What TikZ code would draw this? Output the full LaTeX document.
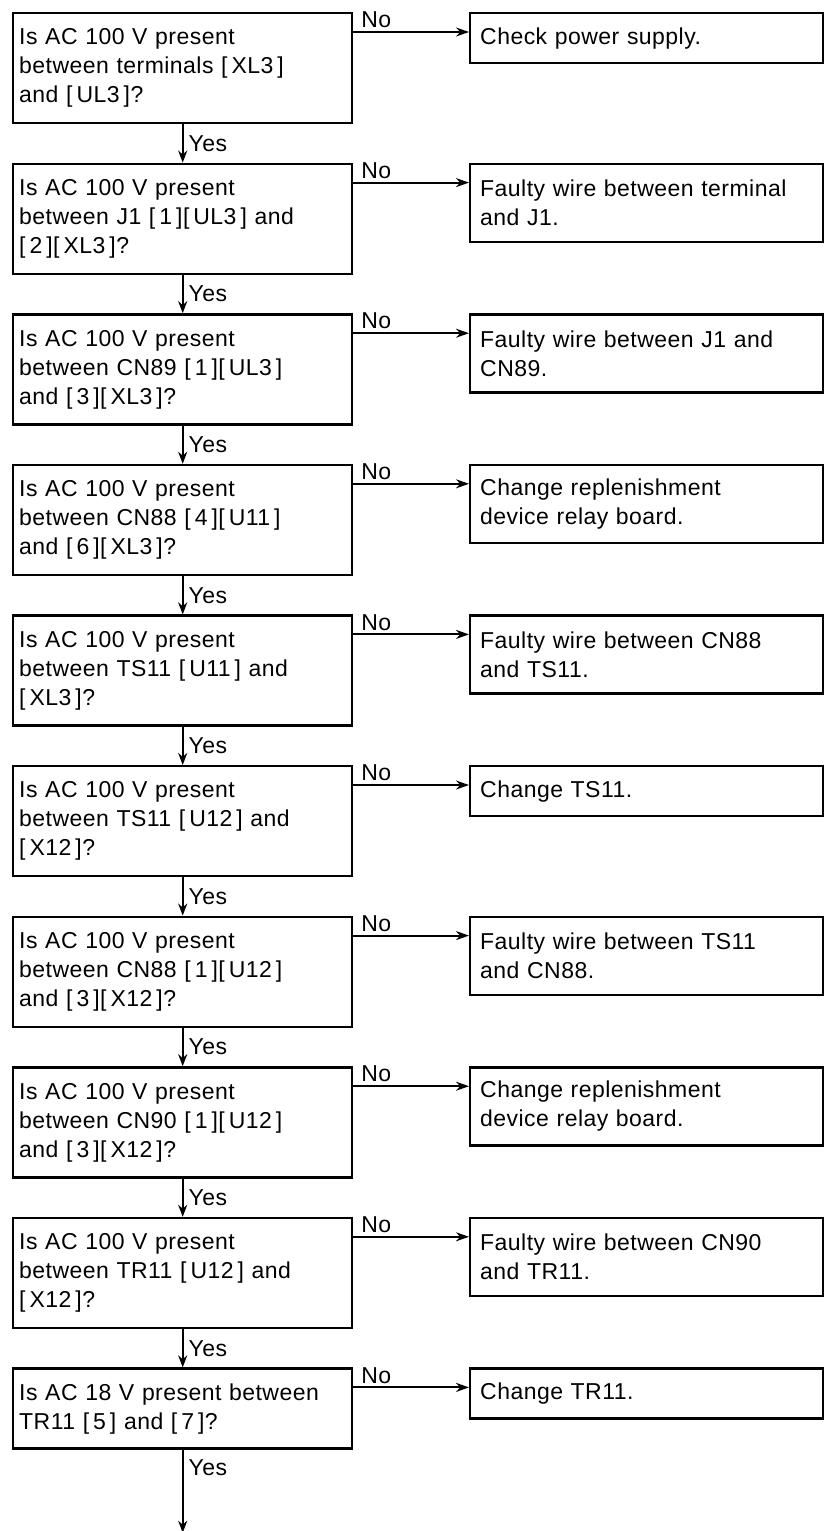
\documentclass[tikz,border=0pt]{standalone}
\usepackage{fontspec}
\setmainfont{Liberation Sans}[LetterSpace=2.0]
\usetikzlibrary{arrows.meta}
\newcommand{\trm}[1]{[\kern2bp#1\kern2bp]}

\begin{document}
\begin{tikzpicture}[x=0.5bp, y=-0.5bp,
      txt/.style={font=\fontsize{11.5bp}{14.5bp}\selectfont},
      ask/.style={txt, draw=black, line width=1.2bp, anchor=north west, align=left,
        text width=163.5bp, inner xsep=3bp, minimum height=55bp},
      fix/.style={txt, draw=black, line width=1.2bp, anchor=north west, align=left,
        text width=166.5bp, inner xsep=5bp, minimum height=39bp},
      fix1/.style={fix, minimum height=25bp},
      yes/.style={-{Stealth[length=6bp,width=4.5bp]}, line width=1bp},
      no/.style={-{Stealth[length=6.5bp,width=4.5bp]}, line width=1bp},
      lbl/.style={txt, inner sep=1.5bp}
    ]
    \useasboundingbox (0,0) rectangle (835,1531);
    \foreach \i [evaluate=\i as \yy using 12+150.6*(\i-1)] in {1,...,10} {
      \coordinate (r\i) at (12,\yy);
      \coordinate (s\i) at (469,\yy); }
    % questions (left) and remedies (right)
    \node[ask] (q1) at (r1) {Is AC 100 V present\\between terminals \trm{XL3}\\and \trm{UL3}?};
    \node[fix1] (f1) at (s1) {Check power supply.};
    \node[ask] (q2) at (r2) {Is AC 100 V present\\between J1 \trm{1}\trm{UL3} and\\\trm{2}\trm{XL3}?};
    \node[fix] (f2) at (s2) {Faulty wire between terminal\\and J1.};
    \node[ask] (q3) at (r3) {Is AC 100 V present\\between CN89 \trm{1}\trm{UL3}\\and \trm{3}\trm{XL3}?};
    \node[fix] (f3) at (s3) {Faulty wire between J1 and\\CN89.};
    \node[ask] (q4) at (r4) {Is AC 100 V present\\between CN88 \trm{4}\trm{U11}\\and \trm{6}\trm{XL3}?};
    \node[fix] (f4) at (s4) {Change replenishment\\device relay board.};
    \node[ask] (q5) at (r5) {Is AC 100 V present\\between TS11 \trm{U11} and\\\trm{XL3}?};
    \node[fix] (f5) at (s5) {Faulty wire between CN88\\and TS11.};
    \node[ask] (q6) at (r6) {Is AC 100 V present\\between TS11 \trm{U12} and\\\trm{X12}?};
    \node[fix1] (f6) at (s6) {Change TS11.};
    \node[ask] (q7) at (r7) {Is AC 100 V present\\between CN88 \trm{1}\trm{U12}\\and \trm{3}\trm{X12}?};
    \node[fix] (f7) at (s7) {Faulty wire between TS11\\and CN88.};
    \node[ask] (q8) at (r8) {Is AC 100 V present\\between CN90 \trm{1}\trm{U12}\\and \trm{3}\trm{X12}?};
    \node[fix] (f8) at (s8) {Change replenishment\\device relay board.};
    \node[ask] (q9) at (r9) {Is AC 100 V present\\between TR11 \trm{U12} and\\\trm{X12}?};
    \node[fix] (f9) at (s9) {Faulty wire between CN90\\and TR11.};
    \node[ask, minimum height=40bp] (q10) at (r10) {Is AC 18 V present between\\TR11 \trm{5} and \trm{7}?};
    \node[fix1] (f10) at (s10) {Change TR11.};
    % No branches
    \foreach \i in {1,...,10} {
      \draw[no] ([yshift=-10bp]q\i.north east) node[lbl, above right, xshift=2bp]{No}
        -- ([yshift=-10bp]q\i.north east -| f\i.west); }
    % Yes branches
    \foreach \i [count=\j from 2] in {1,...,9} {
      \draw[yes] (q\i.south) -- node[lbl, right, xshift=1bp]{Yes} (q\j.north); }
    \coordinate (out) at ([yshift=-41.5bp]q10.south);
    \draw[yes] (q10.south) -- node[lbl, right, pos=0.22, xshift=1bp]{Yes} (out);
  \end{tikzpicture}
\end{document}
